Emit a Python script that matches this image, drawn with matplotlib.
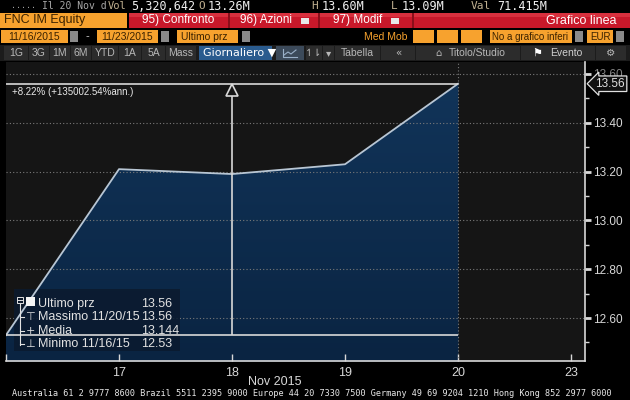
import numpy as np
import matplotlib
matplotlib.use('Agg')
import matplotlib.pyplot as plt
from matplotlib.patches import Rectangle
from matplotlib.transforms import Affine2D, blended_transform_factory
from matplotlib.ticker import MultipleLocator
from matplotlib.colors import LinearSegmentedColormap

# price data (trading days, Nov 2015)
days = ['16', '17', '18', '19', '20']
prices = [12.53, 13.21, 13.19, 13.23, 13.56]
tick_days = ['17', '18', '19', '20', '23']
y_ticks = [12.60, 12.80, 13.00, 13.20, 13.40, 13.60]
last_price = 13.56
high_price = 13.56
low_price = 12.53
mean_price = 13.144
change_text = '+8.22% (+135002.54%ann.)'

legend_rows = [('Ultimo prz', '13.56'),
               ('Massimo 11/20/15', '13.56'),
               ('Media', '13.144'),
               ('Minimo 11/16/15', '12.53')]

NARROW = ['Liberation Sans Narrow', 'Liberation Sans', 'DejaVu Sans']
MONO = 'DejaVu Sans Mono'
ORANGE = '#f7a22e'
DARKTXT = '#3a2200'

fig = plt.figure(figsize=(6.3, 4), dpi=100, facecolor='black')
# pixel coordinates, origin top-left
px = Affine2D().scale(1 / 630, -1 / 400).translate(0, 1) + fig.transFigure


def box(x0, y0, x1, y1, color, **kw):
    r = Rectangle((x0, y0), x1 - x0, y1 - y0, transform=px, facecolor=color,
                  edgecolor='none', **kw)
    fig.add_artist(r)


def txt(x, y, s, **kw):
    kw.setdefault('va', 'center')
    kw.setdefault('family', NARROW)
    fig.text(x, y, s, transform=px, **kw)


# ---------- chart ----------
ax = fig.add_axes([6 / 630, 39 / 400, 579 / 630, 299 / 400])
ax.set_facecolor('#151515')
x = np.arange(len(days))
ymin, ymax = 12.424, 13.649
ax.set_xlim(0, 5.124)
ax.set_ylim(ymin, ymax)

# gradient fill under the price line
poly = ax.fill_between(x, prices, ymin, color='#0d2b4d', lw=0, zorder=1)
cmap = LinearSegmentedColormap.from_list('fill', ['#0a2442', '#113459'])
grad = np.linspace(0, 1, 256).reshape(-1, 1)
im = ax.imshow(grad, extent=[0, 4, ymin, max(prices)], origin='lower',
               cmap=cmap, aspect='auto', zorder=1.5)
im.set_clip_path(poly.get_paths()[0], transform=ax.transData)

# grid
for yv in y_ticks:
    ax.axhline(yv, color='#7a7a7a', lw=0.8, ls=(0, (1, 2)), zorder=2)
ax.axvline(4, color='#7a7a7a', lw=0.8, ls=(0, (1, 2)), zorder=2)

# legend panel (drawn in chart, under the lines)
leg = Rectangle((14, 289), 166, 62, transform=px, facecolor='#0b1a2e',
                edgecolor='none', alpha=0.85, zorder=2.5)
ax.add_patch(leg)

ax.plot(x, prices, color='#b8c6d4', lw=1.3, zorder=4)

# measurement tool lines
ax.hlines([high_price, low_price], 0, 4, color='#d8d8d8', lw=1.2, zorder=5)
ax.vlines(2, low_price, high_price - 0.04, color='#d8d8d8', lw=1.2, zorder=5)
ax.plot([2], [high_price - 0.025], marker='^', ms=9, mfc='#151515',
        mec='#d8d8d8', mew=1.2, zorder=6)
ax.text(0.05, high_price - 0.012, change_text, color='#e8e8e8', fontsize=7,
        va='top', ha='left', zorder=6, family=NARROW)

# axes styling
for s in ['left', 'top']:
    ax.spines[s].set_visible(False)
for s in ['right', 'bottom']:
    ax.spines[s].set_color('#d8d8d8')
    ax.spines[s].set_linewidth(1.2)
ax.yaxis.tick_right()
ax.set_yticks(y_ticks)
ax.set_yticklabels([f'{v:.2f}' for v in y_ticks])
ax.yaxis.set_minor_locator(MultipleLocator(0.1))
ax.tick_params(axis='y', which='major', direction='out', length=4, width=2,
               colors='#d8d8d8', labelsize=8.5, pad=2)
ax.tick_params(axis='y', which='minor', direction='out', length=3, width=1,
               colors='#d8d8d8')
ax.set_xticks([0, 1, 2, 3, 4, 5])
ax.set_xticklabels([''] + tick_days)
ax.tick_params(axis='x', direction='in', length=5, width=1, colors='#d8d8d8',
               labelsize=9, pad=4)
for lbl in ax.get_xticklabels() + ax.get_yticklabels():
    lbl.set_family(NARROW)
# the price tag sits over the top label, as in the terminal
ax.get_yticklabels()[-1].set_alpha(0.6)

# last price tag
tr = blended_transform_factory(ax.transAxes, ax.transData)
ax.text(1.018, last_price, f'{last_price:.2f}', transform=tr, fontsize=8.5,
        color='#e0e0e0', va='center', ha='left', family=NARROW, zorder=10,
        bbox=dict(boxstyle='larrow,pad=0.15', fc='#111111', ec='#e0e0e0',
                  lw=0.9), clip_on=False)

# legend contents
rows_y = [304, 317, 331, 344]
lc = '#e2e2e2'
fig.add_artist(Rectangle((16.5, 296.5), 6, 6, transform=px, fill=False,
                         edgecolor=lc, lw=0.7))
fig.add_artist(plt.Line2D([18, 21.5], [299.5, 299.5], transform=px, color=lc,
                          lw=0.7))
box(26, 297, 35, 306, '#f4f4f4')
fig.add_artist(plt.Line2D([19.5, 19.5], [303, 345], transform=px, color=lc,
                          lw=0.8))
icons = ['', '⊤', '+', '⊥']
for (name, val), yy, ic in zip(legend_rows, rows_y, icons):
    if ic:
        txt(30, yy, ic, color=lc, fontsize=8, ha='center', family='DejaVu Sans')
        fig.add_artist(plt.Line2D([19.5, 24], [yy, yy], transform=px,
                                  color=lc, lw=0.8))
    txt(38, yy, name, color=lc, fontsize=9)
    txt(141, yy, val, color=lc, fontsize=9)

txt(275, 382, 'Nov 2015', color='#d8d8d8', fontsize=9, ha='center')

# ---------- header ----------
txt(11, 6, '.....', color='#a0a0a0', fontsize=6, family=MONO)
txt(42, 6, 'Il 20 Nov d', color='#a8a8a8', fontsize=7, family=MONO)
txt(108, 6, 'Vol', color='#c0b090', fontsize=7.5, family=MONO)
txt(131, 6, '5,320,642', color='#f0f0f0', fontsize=8.5, family=MONO)
txt(198, 6, 'O', color='#c0b090', fontsize=8, family=MONO)
txt(208, 6, '13.26M', color='#f0f0f0', fontsize=8.5, family=MONO)
txt(311, 6, 'H', color='#c0b090', fontsize=8, family=MONO)
txt(322, 6, '13.60M', color='#f0f0f0', fontsize=8.5, family=MONO)
txt(391, 6, 'L', color='#c0b090', fontsize=8, family=MONO)
txt(402, 6, '13.09M', color='#f0f0f0', fontsize=8.5, family=MONO)
txt(471, 6, 'Val', color='#c0b090', fontsize=8, family=MONO)
txt(497, 6, '71.415M', color='#f0f0f0', fontsize=8.5, family=MONO)

# row 2
box(0, 13, 127, 28, ORANGE)
txt(4, 20.5, 'FNC IM Equity', color=DARKTXT, fontsize=9)
box(129, 13, 630, 28, '#c8182a')
box(129, 13, 630, 17, '#d8303e')
for xd in [228, 318, 412]:
    box(xd, 13, xd + 1.5, 28, '#8a0e1a')
txt(142, 20.5, '95) Confronto', color='white', fontsize=8.5)
txt(240, 20.5, '96) Azioni', color='white', fontsize=8.5)
box(301, 18, 309, 24, '#e8e8e8')
txt(333, 20.5, '97) Modif', color='white', fontsize=8.5)
box(391, 18, 399, 24, '#e8e8e8')
txt(616, 20.5, 'Grafico linea', color='white', fontsize=9, ha='right')

# row 3
box(1, 30, 68, 43, ORANGE)
txt(34, 36.5, '11/16/2015', color=DARKTXT, fontsize=7.5, ha='center')
box(70, 31, 78, 42, '#8a8a8a')
txt(87, 36.5, '-', color='#d0d0d0', fontsize=8, ha='center')
box(97, 30, 158, 43, ORANGE)
txt(127, 36.5, '11/23/2015', color=DARKTXT, fontsize=7.5, ha='center')
box(161, 31, 169, 42, '#8a8a8a')
box(177, 30, 238, 43, ORANGE)
txt(181, 36.5, 'Ultimo prz', color=DARKTXT, fontsize=7.5)
box(242, 31, 250, 42, '#8a8a8a')
txt(407, 36.5, 'Med Mob', color=ORANGE, fontsize=7.5, ha='right')
for xb in [413, 437, 461]:
    box(xb, 30, xb + 21, 43, ORANGE)
box(490, 30, 572, 43, ORANGE)
txt(492, 36.5, 'No a grafico inferi', color=DARKTXT, fontsize=7)
box(575, 31, 583, 42, '#8a8a8a')
box(587, 30, 613, 43, ORANGE)
txt(590, 36.5, 'EUR', color=DARKTXT, fontsize=7)
box(616, 31, 624, 42, '#8a8a8a')

# row 4
box(0, 45, 630, 61, '#1c1c1c')
btns = [(4, 28, '1G'), (29, 49, '3G'), (50, 70, '1M'), (71, 91, '6M'),
        (92, 118, 'YTD'), (119, 141, '1A'), (142, 165, '5A'),
        (166, 196, 'Mass'), (306, 322, '↿⇂'), (323, 334, '▾'),
        (335, 380, 'Tabella'), (381, 415, '«'), (416, 520, 'Titolo/Studio'),
        (521, 595, 'Evento'), (596, 626, '⚙')]
for x0, x1, lab in btns:
    box(x0, 46, x1, 60, '#2c2c2c')
    if lab in ('Titolo/Studio', 'Evento'):
        continue
    txt((x0 + x1) / 2, 53, lab, color='#b8b8b8', fontsize=7.5, ha='center',
        family=NARROW if lab.isascii() else 'DejaVu Sans')
box(199, 46, 272, 60, '#2a5b8e')
txt(203, 53, 'Giornaliero ▼', color='white', fontsize=8,
    family=['Liberation Sans Narrow', 'DejaVu Sans'])
# small line-chart icon
box(276, 46, 304, 60, '#3c4a5a')
fig.add_artist(plt.Line2D([283, 283, 297], [49, 57, 57], transform=px,
                          color='#9ab0c8', lw=0.8))
fig.add_artist(plt.Line2D([284, 288, 291, 296], [55, 52, 54, 50], transform=px,
                          color='#9ab0c8', lw=0.8))
txt(438, 53, '⌂', color='#b8b8b8', fontsize=7, ha='center', family='DejaVu Sans')
txt(449, 53, 'Titolo/Studio', color='#b8b8b8', fontsize=7.5)
txt(537, 53, '⚑', color='white', fontsize=8, ha='center', family='DejaVu Sans')
txt(550, 53, 'Evento', color='#d0d0d0', fontsize=7.5)

# footer
txt(12, 393, 'Australia 61 2 9777 8600 Brazil 5511 2395 9000 Europe 44 20 7330 7500 '
    'Germany 49 69 9204 1210 Hong Kong 852 2977 6000',
    color='#e8e8e8', fontsize=6.1, family=MONO)

fig.savefig('out.png', dpi=100, facecolor='black')
